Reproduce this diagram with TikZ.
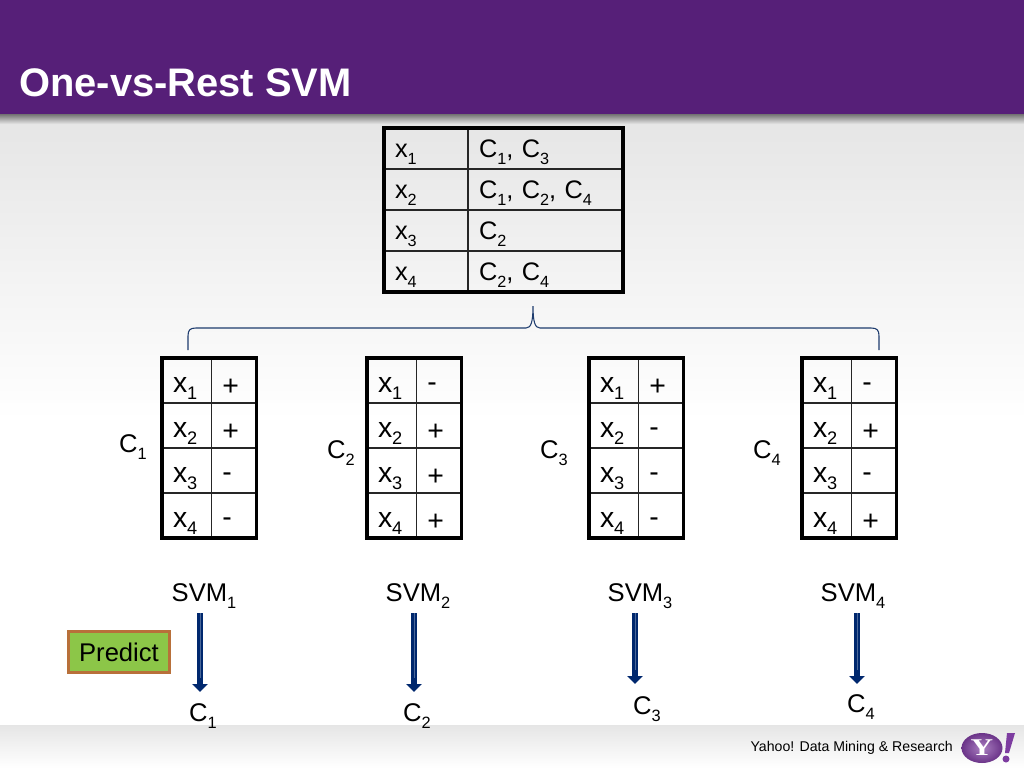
\documentclass[tikz,border=0pt]{standalone}
\usepackage{fontspec}
\setmainfont{Liberation Sans}
\newfontfamily\logofont{Liberation Serif}
\definecolor{titlepurple}{RGB}{86, 31, 120}
\definecolor{arrowblue}{RGB}{0, 40, 110}
\definecolor{bracketblue}{RGB}{30, 60, 110}
\definecolor{predictgreen}{RGB}{140, 198, 72}
\definecolor{predictedge}{RGB}{184, 112, 58}
\definecolor{logopurple}{RGB}{125, 60, 160}
\usetikzlibrary{arrows.meta, positioning, calc}
\newcommand{\dn}[1]{\raisebox{-.25em}{\scalebox{.64}{#1}}}
\newcommand{\pad}{\hspace*{8.25pt}}
\newcommand{\pl}{\raisebox{-3pt}{+}}
\tikzset{
  cellbox/.style={draw=black!85, line width=1.1pt, inner sep=0pt, outer sep=0pt, anchor=north west, align=left, text depth=0pt},
  idcell/.style={cellbox, text height=18pt, text width=37.1pt, minimum height=33.75pt, font=\fontsize{21.3}{24}\selectfont},
  signcell/.style={cellbox, text height=17pt, text width=33.75pt, minimum height=33.75pt, font=\fontsize{21.3}{24}\selectfont},
  topcell/.style={cellbox, text height=14pt, minimum height=30.75pt, font=\fontsize{19}{22}\selectfont},
  outerbox/.style={draw=black, line width=2.3pt},
  label/.style={inner sep=0pt, yshift=-1.5pt, font=\fontsize{19.2}{22}\selectfont},
  predarrow/.style={draw=arrowblue, line width=5pt, -{Triangle[length=6pt, width=11.5pt]}}
}
\newcommand{\svmtable}[8]{%name, x, class label, label x, label y, then signs
  \foreach \r/\s in {1/#6,2/#7,3/#8,4/\lastsign} {
    \node[idcell] (#1x\r) at (#2, {358+45*(\r-1)}) {\pad x\dn{\r}};
    \node[signcell, right=0pt of #1x\r] (#1s\r) {\pad\s};
  }
  \draw[outerbox] (#1x1.north west) rectangle (#1s4.south east);
  \node[label] (#1c) at (#4, #5) {C\dn{#3}};
}
\begin{document}
\begin{tikzpicture}[x=.75pt, y=-.75pt]
  \useasboundingbox (0, 0) rectangle (1024, 768);
  % background
  \fill[white] (0, 0) rectangle (1024, 768);
  \shade[top color=black!10, bottom color=white] (0, 118) rectangle (1024, 420);
  \shade[top color=black!10, bottom color=white] (0, 725) rectangle (1024, 768);
  \shade[top color=black!60, bottom color=black!10] (0, 113) rectangle (1024, 124);
  \fill[titlepurple] (0, 0) rectangle (1024, 114);
  \node[anchor=west, inner sep=0pt, text=white, font=\bfseries\fontsize{29.9}{32}\selectfont] (title) at (19, 83) {One-vs-Rest SVM};
  % top table
  \foreach \r/\cl in {1/{C\dn{1}, C\dn{3}}, 2/{C\dn{1}, C\dn{2}, C\dn{4}}, 3/{C\dn{2}}, 4/{C\dn{2}, C\dn{4}}} {
    \node[topcell, text width=63pt] (topx\r) at (384, {128+41*(\r-1)}) {\pad x\dn{\r}};
    \node[topcell, text width=116.25pt, right=0pt of topx\r] (topc\r) {\pad\cl};
  }
  \draw[outerbox] (topx1.north west) rectangle (topc4.south east);
  % bracket
  \coordinate (brleft) at (188, 350);
  \coordinate (brright) at (879, 350);
  \coordinate (brpeak) at (533, 306);
  \draw[bracketblue, line width=.8pt] (brleft) -- (188, 336) .. controls (188, 330) and (190, 328) .. (196, 328)
    -- (526, 328) .. controls (531, 328) and (533, 322) .. (brpeak)
    .. controls (533, 322) and (535, 328) .. (540, 328)
    -- (871, 328) .. controls (877, 328) and (879, 330) .. (879, 336) -- (brright);
  % class tables
  \def\lastsign{-}
  \svmtable{ca}{162}{1}{133}{445}{\pl}{\pl}{-}
  \def\lastsign{\pl}
  \svmtable{cb}{367}{2}{341}{451}{-}{\pl}{\pl}
  \def\lastsign{-}
  \svmtable{cc}{589}{3}{554}{451}{\pl}{-}{-}
  \def\lastsign{\pl}
  \svmtable{cd}{802}{4}{767}{451}{-}{\pl}{-}
  % classifiers and predictions
  \foreach \n/\i/\sx/\rx/\ry/\ax/\ay in {a/1/204/203/714/200/692, b/2/418/417/714/414/692, c/3/640/647/707/635/684, d/4/853/861/705/857/684} {
    \node[label] (svm\n) at (\sx, 594) {SVM\dn{\i}};
    \node[label] (res\n) at (\rx, \ry) {C\dn{\i}};
    \coordinate (from\n) at (\ax, 613);
    \coordinate (to\n) at (\ax, \ay);
    \draw[predarrow] (from\n) -- (to\n);
    \draw[arrowblue!70!white, line width=.7pt] (from\n) -- ($(to\n)+(0,-14)$);
  }
  \node[draw=predictedge, fill=predictgreen, line width=2pt, minimum width=75.75pt, minimum height=30.75pt, inner sep=0pt, font=\fontsize{19.2}{22}\selectfont] (predict) at (119, 652) {Predict};
  % footer
  \node[anchor=east, inner sep=0pt, font=\fontsize{10.6}{12}\selectfont] (footer) at (953, 748) {Yahoo! Data Mining \& Research};
  \shade[inner color=logopurple!65!white, outer color=logopurple!85!black] (982, 748) ellipse (20.5 and 15);
  \node[text=white, inner sep=0pt, font=\logofont\bfseries\fontsize{18}{18}\selectfont] (logoy) at (982, 748) {\scalebox{1.3}[1]{Y}};
  \fill[logopurple] (1007, 733) -- (1015, 733) -- (1009, 753) -- (1005, 753) -- cycle;
  \fill[logopurple] (1006, 759) circle (3.5);
\end{tikzpicture}
\end{document}
